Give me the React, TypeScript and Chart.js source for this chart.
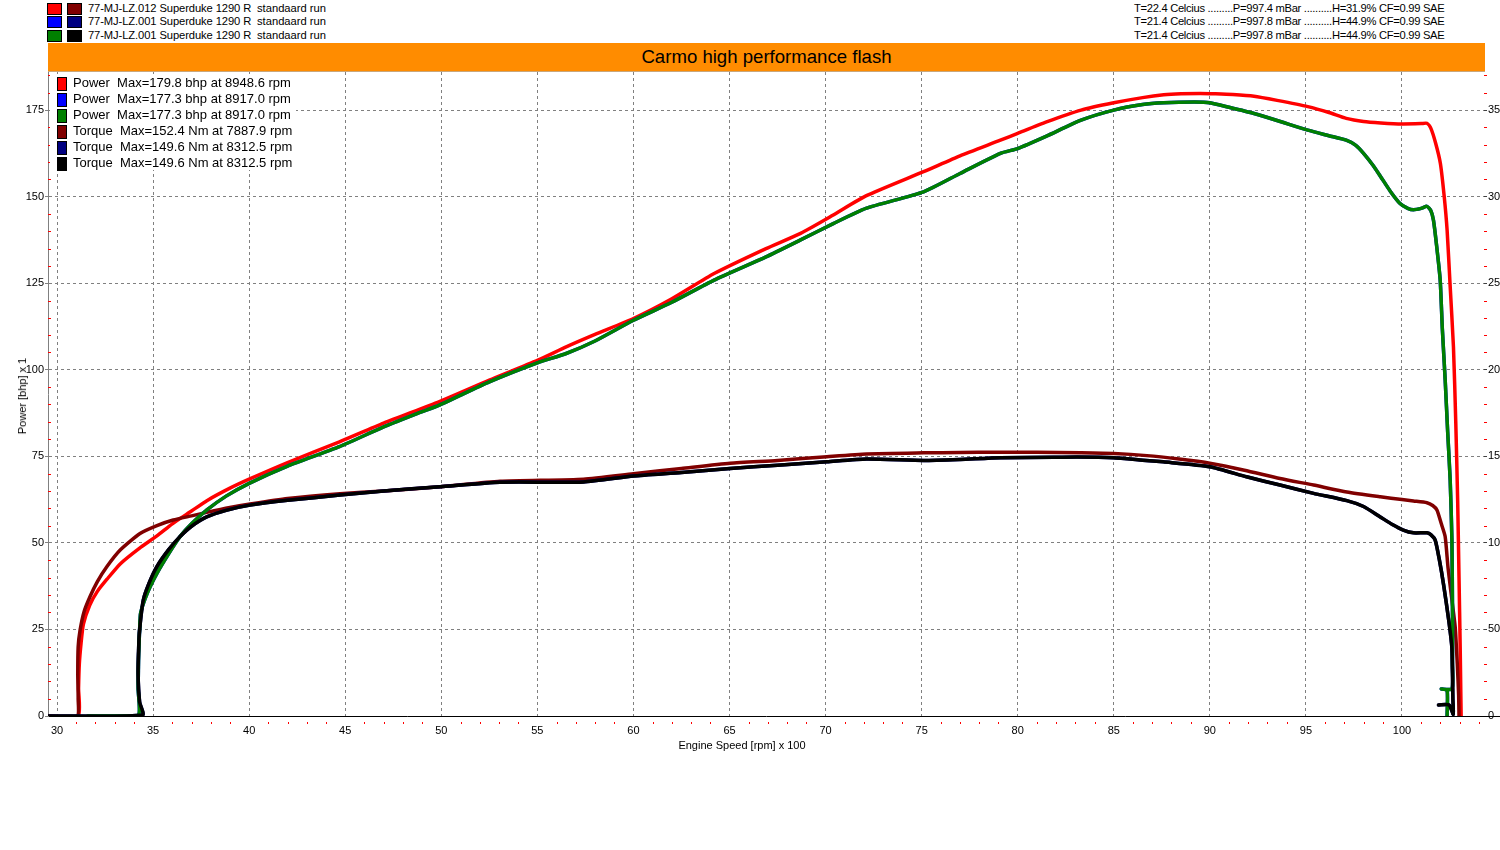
import { useEffect, useRef } from "react";
import { Chart, ChartConfiguration, registerables } from "chart.js";
Chart.register(...registerables);

// engine speed is in rpm x 100, power in bhp, torque in Nm
const lz012Rpm = [
  29.5, 31.1, 31.12, 31.16, 31.25, 31.37, 31.7, 32.1, 32.6, 33.3,
  34.3, 35.2, 36.0, 37.0, 37.8, 39.0, 40.0, 42.0, 44.7, 47.0,
  49.9, 52.5, 55.0, 56.5, 58.0, 60.0, 62.0, 64.2, 66.9, 68.7,
  70.4, 72.1, 75.1, 77.0, 79.1, 80.0, 81.5, 83.3, 85.0, 86.5,
  87.6, 88.5, 89.5, 90.3, 91.2, 92.3, 93.5, 95.1, 96.2, 97.1,
  98.0, 98.9, 100.0, 101.0, 101.3, 101.5, 101.75, 102.0, 102.2, 102.35,
  102.5, 102.68, 102.8, 102.9, 102.97, 103.03, 103.06, 103.08,
];
const lz012Power = [
  0, 0, 8, 15, 21, 26.5, 32, 36, 39.5, 44,
  48.5, 52, 55.5, 59.2, 62.2, 65.8, 68.4, 73.2, 79.2, 84.6,
  90.8, 97, 102.7, 106.6, 110.2, 114.8, 120.5, 127.8, 135.0, 139.4,
  144.7, 150.2, 157.2, 161.8, 166.3, 168.3, 171.6, 175.0, 177.1, 178.6,
  179.4, 179.7, 179.8, 179.7, 179.5, 179.0, 177.8, 176.0, 174.3, 172.6,
  171.7, 171.3, 171.0, 171.1, 171.2, 169.8, 165.5, 159.6, 150, 140.3,
  125, 106.6, 85, 62, 40, 20, 7.8, 0,
];

const lz012TorqueRpm = [
  29.5, 31.05, 31.1, 31.08, 31.1, 31.2, 31.4, 31.72, 32.1, 32.59,
  33.3, 34.32, 35.2, 36.05, 37.0, 37.79, 39.0, 40.05, 42.0, 44.73,
  47.0, 49.94, 53.06, 57.4, 60.0, 62.5, 65.03, 67.5, 70.07, 72.14,
  75.1, 77.0, 78.9, 81.0, 83.26, 85.0, 86.73, 88.4, 90.0, 91.8,
  93.65, 95.4, 97.13, 98.87, 100.0, 100.6, 101.3, 101.6, 101.82, 102.05,
  102.25, 102.4, 102.6, 102.77, 102.88, 102.95, 102.97,
];
const lz012Torque = [
  0, 0, 10, 24, 40, 49.6, 60, 69, 77.6, 86.2,
  96, 105.4, 110, 113.2, 115.6, 117.6, 120.4, 122.4, 125.6, 128.4,
  130, 132.4, 135.6, 136.8, 140, 143, 146, 147.6, 149.8, 151.4,
  152, 152.2, 152.4, 152.3, 152.0, 151.6, 150.4, 148.4, 146, 142,
  137.2, 133.4, 129.4, 126.6, 125, 124.2, 123.2, 121.6, 119, 111,
  103.6, 85.4, 67, 51.4, 30, 12, 0,
];

const lz001Rpm = [
  31.6, 34.2, 34.22, 34.25, 34.3, 34.35, 34.7, 35.2, 35.8, 36.4,
  37.0, 37.8, 38.8, 40.0, 42.0, 44.7, 47.0, 48.8, 49.9, 52.5,
  55.0, 56.5, 58.0, 60.0, 62.0, 64.2, 66.9, 68.7, 70.4, 72.1,
  75.1, 77.0, 79.1, 80.0, 81.5, 83.3, 85.0, 86.5, 87.6, 89.2,
  90.0, 91.0, 92.3, 93.5, 95.1, 96.2, 97.1, 97.6, 98.0, 98.5,
  98.9, 99.4, 99.9, 100.3, 100.6, 101.0, 101.3, 101.5, 101.64, 101.8,
  101.99, 102.1, 102.25, 102.38, 102.51, 102.6, 102.63, 102.63, 102.6, 102.05,
  102.35, 102.35,
];
const lz001Power = [
  0, 0, 8, 18, 25, 29.7, 35.5, 41.2, 46.8, 51.8,
  55.5, 59.5, 63.5, 67.2, 72.2, 77.8, 83.5, 87.5, 89.8, 96.5,
  102.0, 104.7, 108.3, 114.3, 119.5, 125.9, 132.6, 137.5, 142.2, 146.6,
  151.4, 156.7, 162.5, 163.9, 167.5, 172.1, 175.0, 176.6, 177.1, 177.3,
  177.1, 175.8, 174.0, 172.0, 169.2, 167.6, 166.3, 164.8, 162.5, 159,
  155.7, 151.5, 148.0, 146.6, 146.2, 146.6, 147.2, 146.0, 143.2, 136,
  125.9, 112, 97.0, 82, 68.1, 50.8, 30, 15, 7.8, 7.8,
  7.4, 0,
];

const lz001TorqueRpm = [
  29.5, 34.45, 34.3, 34.22, 34.25, 34.3, 34.49, 34.8, 35.19, 35.8,
  36.4, 37.0, 37.79, 38.8, 40.05, 42.0, 44.73, 47.0, 49.94, 53.06,
  57.4, 60.0, 62.5, 65.03, 67.5, 70.07, 72.14, 75.1, 77.0, 79.09,
  81.86, 83.1, 84.98, 86.5, 87.58, 90.0, 91.91, 93.65, 95.4, 97.13,
  98.0, 98.87, 99.5, 100.07, 100.6, 101.3, 101.5, 101.73, 101.95, 102.17,
  102.45, 102.6, 102.65, 102.67, 102.45, 101.9,
];
const lz001Torque = [
  0, 0.6, 8, 24, 40, 50, 67, 77, 86.2, 96,
  103.6, 109.6, 115, 118.8, 121.8, 124.6, 127.6, 130, 132.4, 135,
  135.2, 138.6, 140.6, 143, 144.8, 146.8, 148.4, 147.6, 148.2, 149.2,
  149.4, 149.6, 149.2, 147.8, 146.8, 144, 138.2, 133.4, 128.6, 124.4,
  121, 115, 110.6, 107.4, 105.8, 105.8, 104.8, 101.6, 90, 75.6,
  54, 39.2, 10, 1, 6.4, 6.4,
];

const runNames = [
  "77-MJ-LZ.012 Superduke 1290 R",
  "77-MJ-LZ.001 Superduke 1290 R",
  "77-MJ-LZ.001 Superduke 1290 R",
];
const runConditions = [
  "T=22.4 Celcius .........P=997.4 mBar ..........H=31.9% CF=0.99 SAE",
  "T=21.4 Celcius .........P=997.8 mBar ..........H=44.9% CF=0.99 SAE",
  "T=21.4 Celcius .........P=997.8 mBar ..........H=44.9% CF=0.99 SAE",
];
const powerColors = ["#ff0000", "#0000ff", "#008000"];
const torqueColors = ["#800000", "#000080", "#000000"];
const legendLabels = [
  "Power  Max=179.8 bhp at 8948.6 rpm",
  "Power  Max=177.3 bhp at 8917.0 rpm",
  "Power  Max=177.3 bhp at 8917.0 rpm",
  "Torque  Max=152.4 Nm at 7887.9 rpm",
  "Torque  Max=149.6 Nm at 8312.5 rpm",
  "Torque  Max=149.6 Nm at 8312.5 rpm",
];
const rightTickLabels = ["0", "50", "10", "15", "20", "25", "30", "35"];

const X_MIN = 29.53;
const X_MAX = 104.27;
const Y_MAX = 186;

const FONT = "'Liberation Sans', Arial, sans-serif";

const zip = (xs: number[], ys: number[]) =>
  ys.map((y, i) => ({ x: xs[i], y }));

// red minor ticks along the axes
const minorTicks = {
  id: "minorTicks",
  afterDraw(chart: any) {
    const { ctx, chartArea, scales } = chart;
    const xs = scales.x;
    const ys = scales.y;
    ctx.save();
    ctx.strokeStyle = "#ff0000";
    ctx.lineWidth = 1;
    ctx.beginPath();
    for (let v = 5; v <= ys.max; v += 5) {
      if (v % 25 === 0) continue;
      const py = Math.round(ys.getPixelForValue(v)) + 0.5;
      ctx.moveTo(chartArea.left, py);
      ctx.lineTo(chartArea.left + 3, py);
      ctx.moveTo(chartArea.right, py);
      ctx.lineTo(chartArea.right + 3, py);
    }
    for (let v = Math.ceil(xs.min); v <= xs.max; v++) {
      if (v % 5 === 0) continue;
      const px = Math.round(xs.getPixelForValue(v)) + 0.5;
      ctx.moveTo(px, chartArea.bottom + 6);
      ctx.lineTo(px, chartArea.bottom + 8);
    }
    ctx.stroke();
    // x axis line runs on to the page edge
    ctx.strokeStyle = "#000";
    ctx.beginPath();
    ctx.moveTo(chartArea.right, chartArea.bottom + 0.5);
    ctx.lineTo(chart.width, chartArea.bottom + 0.5);
    ctx.stroke();
    ctx.restore();
  },
};

const DynoChart = () => {
  const canvasRef = useRef<HTMLCanvasElement>(null);

  useEffect(() => {
    if (!canvasRef.current) return;

    const tickFont = { family: FONT, size: 11 };
    const line = (data: any[], color: string, axis: string, order: number) => ({
      data,
      borderColor: color,
      backgroundColor: color,
      borderWidth: 3.5,
      yAxisID: axis,
      order,
      fill: false,
    });

    const config: ChartConfiguration = {
      type: "line",
      data: {
        datasets: [
          line(zip(lz012Rpm, lz012Power), powerColors[0], "y", 6),
          line(zip(lz012TorqueRpm, lz012Torque), torqueColors[0], "yT", 5),
          line(zip(lz001Rpm, lz001Power), powerColors[1], "y", 4),
          line(zip(lz001TorqueRpm, lz001Torque), torqueColors[1], "yT", 3),
          line(zip(lz001Rpm, lz001Power), powerColors[2], "y", 2),
          line(zip(lz001TorqueRpm, lz001Torque), torqueColors[2], "yT", 1),
        ] as any,
      },
      options: {
        animation: false,
        responsive: true,
        maintainAspectRatio: false,
        layout: { padding: { top: 12, left: 0, right: 0, bottom: 0 } },
        plugins: {
          legend: { display: false },
          tooltip: { enabled: false },
        },
        elements: {
          point: { radius: 0 },
          line: { tension: 0.2, borderCapStyle: "round", borderJoinStyle: "round" },
        },
        scales: {
          x: {
            type: "linear",
            min: X_MIN,
            max: X_MAX,
            afterFit: (s: any) => {
              s.height = 54;
            },
            ticks: {
              stepSize: 5,
              includeBounds: false,
              autoSkip: false,
              maxRotation: 0,
              padding: 8,
              color: "#000",
              font: tickFont,
            },
            grid: { color: "#808080", drawTicks: false },
            border: { display: true, color: "#000", dash: [3, 3] },
          },
          y: {
            type: "linear",
            position: "left",
            min: 0,
            max: Y_MAX,
            afterFit: (s: any) => {
              s.width = 48;
            },
            ticks: {
              stepSize: 25,
              includeBounds: false,
              padding: 1,
              color: "#000",
              font: tickFont,
            },
            grid: {
              color: (c: any) => (c.tick && c.tick.value === 0 ? "rgba(0,0,0,0)" : "#808080"),
              tickColor: "#808080",
              tickLength: 3,
            },
            border: { display: true, color: "#808080", dash: [3, 3] },
          },
          yR: {
            type: "linear",
            position: "right",
            min: 0,
            max: Y_MAX / 5,
            afterFit: (s: any) => {
              s.width = 16;
            },
            ticks: {
              stepSize: 5,
              includeBounds: false,
              padding: 1,
              color: "#000",
              font: tickFont,
              callback: (_v: any, i: number) => rightTickLabels[i],
            },
            grid: { drawOnChartArea: false, tickColor: "#404040", tickLength: 3 },
            border: { display: false },
          },
          yT: {
            type: "linear",
            display: false,
            min: 0,
            max: Y_MAX * 2,
          },
        },
      } as any,
      plugins: [minorTicks],
    };

    const chart = new Chart(canvasRef.current, config);
    return () => chart.destroy();
  }, []);

  return (
    <div style={{ position: "absolute", left: 0, top: 60, width: 1500, height: 710 }}>
      <canvas ref={canvasRef}></canvas>
    </div>
  );
};

const Swatch = ({ color, left, top, w, h }: any) => (
  <div
    style={{
      position: "absolute",
      left,
      top,
      width: w,
      height: h,
      background: color,
      border: "1px solid #000",
      boxSizing: "border-box",
    }}
  />
);

const headerText = { position: "absolute", fontSize: 11.2, lineHeight: "13px", whiteSpace: "pre" } as const;

export default function App() {
  const headerRows = [0, 1, 2];
  return (
    <div
      style={{
        position: "absolute",
        left: 0,
        top: 0,
        width: 1500,
        height: 850,
        background: "#fff",
        fontFamily: FONT,
        color: "#000",
        overflow: "hidden",
      }}
    >
      {headerRows.map((i) => (
        <div key={i}>
          <Swatch color={powerColors[i]} left={47} top={3 + i * 13.4} w={15} h={12} />
          <Swatch color={torqueColors[i]} left={67} top={3 + i * 13.4} w={15} h={12} />
          <div style={{ ...headerText, left: 88, top: 2 + i * 13.4, letterSpacing: -0.1 }}>{runNames[i]}</div>
          <div style={{ ...headerText, left: 257, top: 2 + i * 13.4 }}>standaard run</div>
          <div style={{ ...headerText, left: 1134, top: 2 + i * 13.4, letterSpacing: -0.3 }}>
            {runConditions[i]}
          </div>
        </div>
      ))}

      <div
        style={{
          position: "absolute",
          left: 48,
          top: 43,
          width: 1437,
          height: 28,
          background: "#ff8c00",
          borderBottom: "1px solid #c9a77c",
          textAlign: "center",
          fontSize: 18.6,
          lineHeight: "28px",
        }}
      >
        Carmo high performance flash
      </div>

      <DynoChart />

      <div style={{ position: "absolute", left: 50, top: 74, width: 246, height: 96, background: "#fff" }}>
        {legendLabels.map((label, i) => {
          const color = i < 3 ? powerColors[i] : torqueColors[i - 3];
          return (
            <div key={i}>
              <Swatch color={color} left={7} top={3 + i * 16} w={10} h={14} />
              <div style={{ position: "absolute", left: 23, top: 1 + i * 16, fontSize: 13, lineHeight: "16px", whiteSpace: "pre" }}>
                {label}
              </div>
            </div>
          );
        })}
      </div>

      <div
        style={{
          position: "absolute",
          left: 22,
          top: 396,
          transform: "translate(-50%, -50%) rotate(-90deg)",
          fontSize: 11,
          whiteSpace: "nowrap",
        }}
      >
        Power [bhp] x 1
      </div>
      <div
        style={{
          position: "absolute",
          left: 742,
          top: 745,
          transform: "translate(-50%, -50%)",
          fontSize: 11,
          whiteSpace: "nowrap",
        }}
      >
        Engine Speed [rpm] x 100
      </div>
    </div>
  );
}
